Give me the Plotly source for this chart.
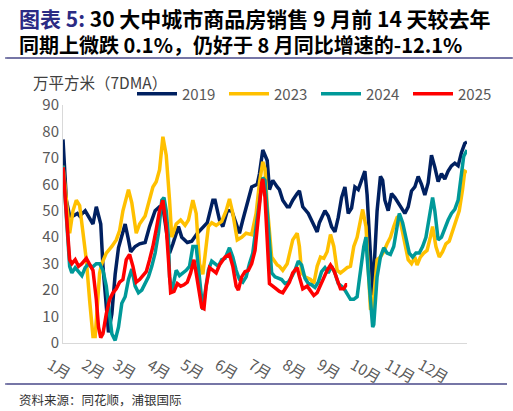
import plotly.graph_objects as go

# x positions are day-of-year (0 = 1 Jan)
month_labels = ["1月", "2月", "3月", "4月", "5月", "6月", "7月", "8月", "9月", "10月", "11月", "12月"]
month_start_days = [0, 31, 59, 90, 120, 151, 181, 212, 243, 273, 304, 334]
y_ticks = [0, 10, 20, 30, 40, 50, 60, 70, 80, 90]

days_2019 = [0, 3, 6, 9, 13, 15, 20, 24, 27, 30, 32, 34, 36, 39, 41, 44, 47, 50, 53, 56, 59, 61, 65, 69,
             74, 78, 83, 87, 90, 94, 96, 99, 104, 107, 112, 116, 121, 130, 135, 137, 141, 144, 148, 152,
             157, 159, 162, 166, 170, 175, 177, 180, 184, 186, 189, 193, 195, 198, 202, 204, 207, 211,
             213, 216, 221, 225, 229, 231, 236, 239, 242, 245, 248, 251, 254, 257, 260, 263, 266, 269,
             272, 274, 276, 279, 283, 286, 288, 290, 293, 296, 299, 302, 305, 308, 311, 314, 317, 320,
             323, 326, 329, 332, 335, 338, 341, 344, 347, 350, 353, 356, 359, 362, 364]
vals_2019 = [77, 54, 48, 48, 49, 48, 50, 47, 45, 51.5, 48, 45, 29, 14, 4, 11, 26, 36, 40, 45, 39, 34.5,
             36.5, 37.5, 38, 44, 50, 51.5, 51.5, 40, 34, 37.5, 44, 40, 38, 38.5, 41.5, 45.5, 54, 54, 46.5,
             44, 50, 50, 44, 41.5, 46.5, 53, 59, 60, 64, 73, 69, 58, 61.5, 59, 58, 54, 51.5, 51.5, 54,
             56.5, 57.5, 51.5, 49, 45.5, 42, 45.5, 50, 48, 44, 42, 47.5, 55, 59, 49, 51, 59, 58, 61.5,
             65, 56, 40, 18, 50, 63, 61.5, 54, 50, 56.5, 55, 53, 51, 49, 51.5, 57.5, 59, 63, 60, 56,
             60.5, 71, 66.5, 61, 64, 62, 65, 67, 68, 67, 72, 75.5, 76]

days_2023 = [0, 3, 6, 9, 12, 15, 18, 21, 24, 26, 27, 29, 31, 33, 35, 39, 44, 48, 51, 54, 59, 62, 66, 69,
             74, 78, 81, 84, 87, 90, 93, 96, 98, 102, 106, 110, 113, 117, 120, 123, 126, 131, 134, 138,
             143, 147, 150, 153, 157, 161, 165, 170, 174, 177, 180, 182, 184, 188, 193, 195, 198, 202,
             204, 207, 211, 213, 215, 218, 223, 226, 229, 232, 235, 238, 241, 244, 247, 250, 253, 256,
             259, 262, 265, 268, 270, 273, 275, 277, 279, 283, 286, 289, 292, 295, 298, 301, 303, 305,
             308, 311, 314, 317, 319, 322, 325, 328, 331, 333, 336, 339, 342, 345, 348, 351, 354, 357,
             360, 362, 364]
vals_2023 = [67, 55, 41.5, 50, 54, 52, 41.5, 31.5, 16, 6, 2.5, 2.5, 16, 26.5, 30, 34, 36.5, 39, 42.5, 50,
             58, 53, 41.5, 45, 48, 54, 59, 61, 65.5, 78, 71, 54, 40, 45, 46.5, 44.5, 46.5, 54, 49, 30,
             26, 44, 45.5, 44.5, 46, 50, 54.5, 49, 39, 40, 41.5, 41, 49, 60.5, 68.5, 66, 52, 32.5, 29.5,
             29, 27.5, 30, 34, 39, 41.5, 36.5, 26.5, 25, 24, 22.5, 29, 32.5, 32, 34.5, 41, 36.5, 27.5,
             26.5, 27.5, 28.5, 29, 36.5, 40, 46, 50.5, 44, 25, 13, 12.5, 31.5, 32.5, 34.5, 37.5, 40, 44,
             47.5, 48, 44, 36.5, 31.5, 30, 32.5, 29.5, 32.5, 34, 35, 40, 44, 36.5, 32.5, 34.5, 37.5,
             38.5, 42.5, 46, 50, 58, 65, 64.5]

days_2024 = [0, 3, 6, 8, 11, 14, 17, 20, 23, 26, 30, 33, 36, 39, 42, 44, 47, 50, 53, 56, 59, 62, 65, 68,
             71, 74, 77, 80, 83, 86, 89, 91, 93, 95, 96, 98, 102, 105, 108, 111, 114, 117, 120, 123, 126,
             128, 131, 134, 137, 140, 143, 146, 150, 153, 156, 159, 162, 165, 168, 171, 174, 177, 180,
             182, 185, 188, 191, 194, 197, 200, 203, 206, 209, 212, 215, 218, 221, 224, 227, 230, 233,
             236, 239, 242, 245, 248, 251, 254, 257, 259, 262, 265, 267, 269, 271, 273, 274, 277, 279,
             280, 283, 286, 289, 292, 295, 298, 301, 303, 306, 309, 312, 315, 318, 321, 324, 327, 330,
             333, 335, 338, 341, 344, 347, 350, 353, 356, 359, 361, 364]
vals_2024 = [67, 50, 29, 26.5, 28.5, 27, 25.5, 28.5, 30, 28.5, 30, 30, 27.5, 21.5, 11, 3.5, 1, 6, 15,
             17.5, 24, 28, 21.5, 19, 20, 22.5, 25, 29, 34, 41.5, 54, 55, 50, 40, 25, 19, 27.5, 25.5,
             26.5, 27.5, 29, 36.5, 36.5, 24, 12.5, 19, 27.5, 31, 30, 29, 31.5, 32, 36, 32.5, 27.5, 24,
             23, 25, 30, 34, 44, 53, 62.5, 61.5, 41.5, 26.5, 25, 24.5, 24, 22.5, 23, 25, 27.5, 31, 29.5,
             24.5, 22.5, 22, 21, 23, 27, 28.5, 26.5, 29, 26.5, 22.5, 21.5, 20, 18, 16.5, 16.5, 17.5, 24,
             30, 36.5, 40, 32.5, 16.5, 6, 7, 25, 32.5, 36, 34, 33.5, 36.5, 43, 49, 45.5, 39, 34, 32.5,
             34, 34, 36.5, 40, 47.5, 55, 50, 39, 40, 43.5, 46.5, 49, 50.5, 54, 63, 70.5, 73]

days_2025 = [0, 3, 6, 8, 11, 14, 17, 21, 24, 27, 30, 32, 34, 36, 39, 42, 45, 48, 51, 54, 57, 60, 63, 66,
             69, 72, 75, 78, 81, 84, 87, 90, 93, 95, 97, 100, 103, 106, 109, 112, 115, 118, 120, 123,
             125, 127, 129, 132, 135, 138, 141, 146, 150, 153, 156, 158, 161, 164, 167, 170, 173, 176,
             179, 180, 182, 184, 186, 189, 193, 195, 198, 202, 204, 207, 211, 213, 216, 220, 223, 226,
             229, 232, 235, 238, 241, 244, 247, 250, 253, 255, 256]
vals_2025 = [66.5, 49, 31.5, 30, 31.5, 29, 30, 32, 30, 27.5, 16.5, 6, 2, 3.5, 11, 16.5, 19, 20.5, 23, 24,
             31.5, 33.5, 29, 23, 24, 25.5, 27, 31.5, 36.5, 43, 50, 54, 44, 31.5, 19, 19.5, 22.5, 21.5,
             22, 23, 26.5, 31.5, 26.5, 19, 13.5, 13, 21.5, 28.5, 27.5, 26.5, 29.5, 32.5, 33.5, 29, 21.5,
             20, 25, 27, 27.5, 30, 35, 49, 60.5, 62, 55, 39, 22.5, 21.5, 20, 19.5, 19, 21.5, 23, 26.5,
             28.5, 25, 20.5, 21.5, 19.5, 18, 19, 22, 25, 27.5, 29.5, 27.5, 24, 20.5, 20.5, 22, 22]

series = [
    ("2019", days_2019, vals_2019, "#002060"),
    ("2023", days_2023, vals_2023, "#FFC000"),
    ("2024", days_2024, vals_2024, "#009999"),
    ("2025", days_2025, vals_2025, "#FF0000"),
]

fig = go.Figure()
for name, d, v, c in series:
    fig.add_trace(go.Scatter(x=d, y=v, name=name, mode="lines",
                             line=dict(color=c, width=3.5)))

# plot area in pixels: left 63, right 467, top 105, bottom 343
L, R, T, B = 63, 467, 105, 343
W, H = 513, 411
CJK = "Noto Sans CJK SC"
RULE = "#6E6EA0"


def px(x):
    return (x - L) / (R - L)


def py(y):
    return (B - y) / (B - T)


def rule(y, x_start, x_end):
    # plain horizontal rule drawn as an arrow without head
    return dict(xref="paper", yref="paper", x=px(x_end), y=py(y), text="",
                showarrow=True, arrowhead=0, arrowwidth=1.5, arrowcolor=RULE,
                axref="pixel", ayref="pixel", ax=x_start - x_end, ay=0, standoff=0)


title_text = ("<span style='font-size:21px'><span style='color:#2B2B84'>图表 5:</span> "
              "30 大中城市商品房销售 9 月前 14 天较去年</span><br>"
              "同期上微跌 0.1%，仍好于 8 月同比增速的-12.1%")

fig.update_layout(
    width=W, height=H,
    margin=dict(l=L, r=W - R, t=T, b=H - B),
    plot_bgcolor="white", paper_bgcolor="white",
    font=dict(family=CJK, color="#595959", size=15),
    showlegend=True,
    legend=dict(orientation="h", x=px(132), y=py(94), xanchor="left", yanchor="middle",
                font=dict(size=15, color="#595959"), entrywidth=37, entrywidthmode="pixels",
                bgcolor="rgba(0,0,0,0)", itemwidth=40),
    xaxis=dict(range=[0, 364], tickvals=month_start_days, ticktext=month_labels,
               showline=True, linecolor="#D9D9D9", linewidth=1, showgrid=False,
               zeroline=False, ticks="", ticklabelshift=-13, ticklabelstandoff=7,
               tickfont=dict(size=15, family=CJK)),
    yaxis=dict(range=[0, 90], tickvals=y_ticks, showline=True, linecolor="#D9D9D9",
               linewidth=1, showgrid=False, zeroline=False, ticks="",
               tickfont=dict(size=15, family=CJK)),
    shapes=[
        dict(type="line", xref="paper", yref="paper", layer="above", x0=px(5), x1=px(513),
             y0=py(58), y1=py(58), line=dict(color=RULE, width=1.5)),
        dict(type="line", xref="paper", yref="paper", layer="above", x0=px(5), x1=px(507),
             y0=py(384), y1=py(384), line=dict(color=RULE, width=1.5)),
    ],
    annotations=[
        dict(xref="paper", yref="paper", x=px(17), y=py(31), xanchor="left", yanchor="middle",
             align="left", showarrow=False, text="<b>" + title_text + "</b>",
             font=dict(family=CJK, size=20, color="#000000")),
        dict(xref="paper", yref="paper", x=px(31), y=py(82), xanchor="left", yanchor="middle",
             align="left", showarrow=False, text="万平方米（7DMA）",
             font=dict(family=CJK, size=15.5, color="#404040")),
        dict(xref="paper", yref="paper", x=px(17), y=py(399), xanchor="left", yanchor="middle",
             align="left", showarrow=False, text="资料来源：同花顺，浦银国际",
             font=dict(family=CJK, size=12.5, color="#333333")),
        rule(58, 5, 513),
        rule(384, 5, 507),
    ],
)

fig.write_html("out.html", config={"displayModeBar": False},
               post_script="document.body.style.margin='0px';")
